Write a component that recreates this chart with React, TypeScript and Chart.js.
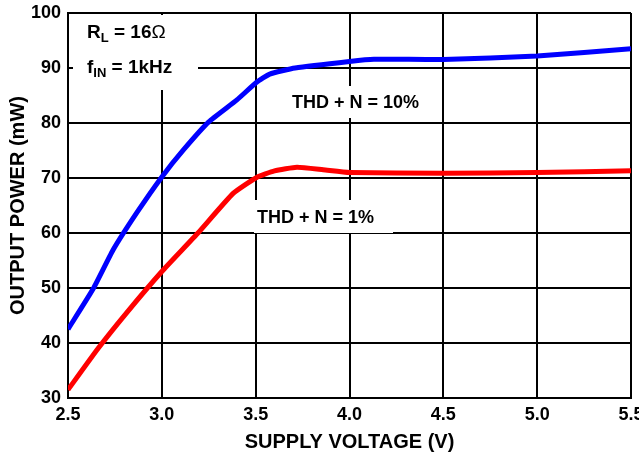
import React, { useEffect, useRef } from "react";
import { Chart, registerables } from "chart.js";

Chart.register(...registerables);

const voltages10 = [2.5, 2.635, 2.74, 2.865, 3.0, 3.115, 3.25, 3.4, 3.505, 3.575, 3.71, 4.0, 4.13, 4.5, 5.0, 5.5];
const thd10 = [42.5, 49.9, 56.9, 63.6, 70.2, 75.1, 80.2, 84.2, 87.4, 88.9, 90.0, 91.2, 91.6, 91.55, 92.2, 93.5];
const voltages1 = [2.5, 2.66, 2.81, 3.0, 3.19, 3.38, 3.505, 3.6, 3.72, 3.86, 4.0, 4.5, 5.0, 5.5];
const thd1 = [31.5, 39.0, 45.4, 53.0, 59.9, 67.2, 70.1, 71.3, 71.95, 71.5, 71.0, 70.85, 71.0, 71.3];
const seriesLabels = ["THD + N = 10%", "THD + N = 1%"];
const xTitle = "SUPPLY VOLTAGE (V)";
const yTitle = "OUTPUT POWER (mW)";

const FONT = "'Liberation Sans', Arial, Helvetica, sans-serif";

const annotations = {
  id: "annotations",
  beforeDatasetsDraw(chart: any) {
    const ctx = chart.ctx;
    ctx.save();
    ctx.fillStyle = "#ffffff";
    ctx.fillRect(73, 15, 125, 75);
    ctx.fillRect(284, 86, 146, 32);
    ctx.fillRect(254, 200, 139, 33);
    ctx.fillStyle = "#000000";
    ctx.textBaseline = "alphabetic";
    ctx.textAlign = "left";
    // R_L = 16 Ω
    ctx.font = `bold 19px ${FONT}`;
    let x = 87;
    ctx.fillText("R", x, 38);
    x += ctx.measureText("R").width;
    ctx.font = `bold 13px ${FONT}`;
    ctx.fillText("L", x, 42);
    x += ctx.measureText("L").width;
    ctx.font = `bold 19px ${FONT}`;
    ctx.fillText(" = 16", x, 38);
    x += ctx.measureText(" = 16").width;
    ctx.font = `19px ${FONT}`;
    ctx.fillText("\u03A9", x, 38);
    // f_IN = 1kHz
    x = 87;
    ctx.font = `bold 19px ${FONT}`;
    ctx.fillText("f", x, 73);
    x += ctx.measureText("f").width;
    ctx.font = `bold 13px ${FONT}`;
    ctx.fillText("IN", x, 77);
    x += ctx.measureText("IN").width;
    ctx.font = `bold 19px ${FONT}`;
    ctx.fillText(" = 1kHz", x, 73);
    // curve labels
    ctx.font = `bold 18px ${FONT}`;
    ctx.fillText(seriesLabels[0], 292, 108);
    ctx.fillText(seriesLabels[1], 257, 223);
    ctx.restore();
  },
};

export default function App() {
  const ref = useRef<HTMLCanvasElement>(null);
  useEffect(() => {
    if (!ref.current) return;
    const chart = new Chart(ref.current, {
      type: "line",
      data: {
        datasets: [
          {
            label: seriesLabels[0],
            data: voltages10.map((v, i) => ({ x: v, y: thd10[i] })),
            borderColor: "#0000ff",
            borderWidth: 5,
            pointRadius: 0,
            tension: 0.15,
            fill: false,
          },
          {
            label: seriesLabels[1],
            data: voltages1.map((v, i) => ({ x: v, y: thd1[i] })),
            borderColor: "#ff0000",
            borderWidth: 5,
            pointRadius: 0,
            tension: 0.15,
            fill: false,
          },
        ],
      },
      options: {
        animation: false,
        responsive: true,
        maintainAspectRatio: false,
        layout: { padding: { top: 13, right: 8, left: 0, bottom: 0 } },
        plugins: { legend: { display: false }, tooltip: { enabled: false } },
        scales: {
          x: {
            type: "linear",
            min: 2.5,
            max: 5.5,
            ticks: {
              stepSize: 0.5,
              color: "#000",
              font: { family: FONT, size: 18, weight: "bold" },
              padding: 6,
              maxRotation: 0,
              autoSkip: false,
              callback: (v: any) => Number(v).toFixed(1),
            },
            grid: { color: "#000", lineWidth: 2, drawTicks: false },
            border: { color: "#000", width: 2 },
            title: {
              display: true,
              text: xTitle,
              color: "#000",
              font: { family: FONT, size: 20, weight: "bold" },
              padding: { top: 0, bottom: 5 },
            },
            afterFit: (s: any) => {
              s.height = 61;
              s.paddingLeft = 0;
              s.paddingRight = 0;
            },
          },
          y: {
            min: 30,
            max: 100,
            ticks: {
              stepSize: 10,
              color: "#000",
              font: { family: FONT, size: 18, weight: "bold" },
              padding: 7,
            },
            grid: { color: "#000", lineWidth: 2, drawTicks: false },
            border: { color: "#000", width: 2 },
            title: {
              display: true,
              text: yTitle,
              color: "#000",
              font: { family: FONT, size: 20, weight: "bold" },
              padding: { top: 6, bottom: 0 },
            },
            afterFit: (s: any) => {
              s.width = 68;
              s.paddingTop = 0;
              s.paddingBottom = 0;
            },
          },
        },
      },
      plugins: [annotations],
    });
    return () => chart.destroy();
  }, []);
  return (
    <div style={{ position: "absolute", left: 0, top: 0, width: 639, height: 459, background: "#fff" }}>
      <canvas ref={ref} />
    </div>
  );
}
